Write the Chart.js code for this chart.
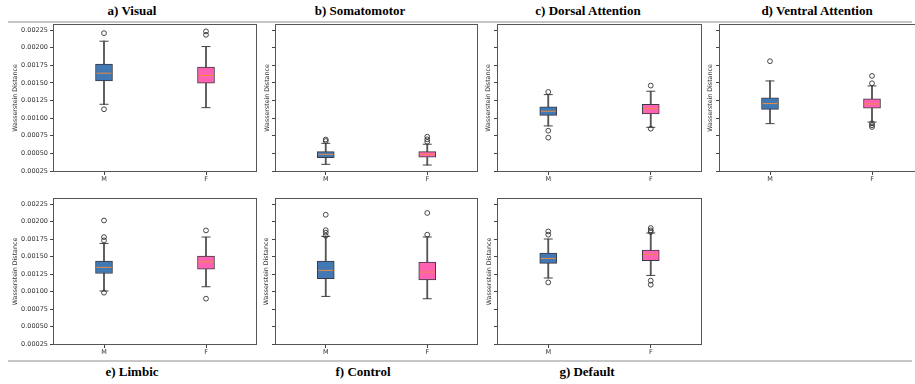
<!DOCTYPE html>
<html><head><meta charset="utf-8">
<script src="https://cdn.jsdelivr.net/npm/chart.js@4.4.1/dist/chart.umd.min.js"></script>
<style>
html,body{margin:0;padding:0;width:915px;height:384px;overflow:hidden;background:#fff;position:relative;}
.t{position:absolute;width:240px;text-align:center;font:bold 13px "Liberation Serif","Times New Roman",serif;line-height:14px;color:#000;white-space:nowrap;}
.rule{position:absolute;left:8px;width:904px;height:2px;background:#c6c6c6;}
canvas{position:absolute;}
</style></head><body>
<div class="rule" style="top:21px"></div>
<div class="rule" style="top:360px"></div>
<div id="titles"></div>
<canvas id="c0"></canvas><canvas id="c1"></canvas><canvas id="c2"></canvas><canvas id="c3"></canvas>
<canvas id="c4"></canvas><canvas id="c5"></canvas><canvas id="c6"></canvas>
<script>
// ---------- data ----------
const categories = ['M', 'F'];
const yTicks = [0.00025, 0.0005, 0.00075, 0.001, 0.00125, 0.0015, 0.00175, 0.002, 0.00225];
const yMin = 0.000236, yMax = 0.002336;
const panelTitles = ['a) Visual', 'b) Somatomotor', 'c) Dorsal Attention', 'd) Ventral Attention', 'e) Limbic', 'f) Control', 'g) Default'];

// per category: [lower whisker, Q1, median, Q3, upper whisker]
const visualStats = [[0.001197, 0.001528, 0.001638, 0.001766, 0.002092], [0.001149, 0.001496, 0.001604, 0.001723, 0.002016]];
const visualOutliers = [[0.002206, 0.001126], [0.002232, 0.002182]];
const somatomotorStats = [[0.000345, 0.000439, 0.000487, 0.000524, 0.000643], [0.000335, 0.000445, 0.000487, 0.000524, 0.000630]];
const somatomotorOutliers = [[0.000697, 0.000676], [0.000737, 0.000700, 0.000665]];
const dorsalStats = [[0.000890, 0.001040, 0.001098, 0.001160, 0.001334], [0.000870, 0.001060, 0.001135, 0.001197, 0.001382]];
const dorsalOutliers = [[0.001372, 0.000822, 0.000723], [0.001462, 0.000850]];
const ventralStats = [[0.000922, 0.001125, 0.001207, 0.001287, 0.001528], [0.000945, 0.001140, 0.001202, 0.001273, 0.001457]];
const ventralOutliers = [[0.001808], [0.001600, 0.001495, 0.000927, 0.000900, 0.000875]];
const limbicStats = [[0.001007, 0.001258, 0.001345, 0.001435, 0.001687], [0.001068, 0.001320, 0.001425, 0.001507, 0.001778]];
const limbicOutliers = [[0.002015, 0.001778, 0.001730, 0.000983], [0.001873, 0.000898]];
const controlStats = [[0.000930, 0.001183, 0.001302, 0.001436, 0.001787], [0.000897, 0.001165, 0.001278, 0.001422, 0.001779]];
const controlOutliers = [[0.002097, 0.001876, 0.001840, 0.001797], [0.002122, 0.001812]];
const defaultStats = [[0.001193, 0.001401, 0.001473, 0.001550, 0.001750], [0.001230, 0.001440, 0.001530, 0.001593, 0.001836]];
const defaultOutliers = [[0.001858, 0.001812, 0.001130], [0.001907, 0.001873, 0.001850, 0.001155, 0.001097]];

const boxColors = ['#4079b3', '#ff62b0'];

// ---------- layout (positions only) ----------
const panels = [
  {stats: visualStats, out: visualOutliers, left: 0, top: 24, yw: 53, pw: 204, ph: 148, labels: true, tpad: 11.2, tx: 132, ty: 3.6},
  {stats: somatomotorStats, out: somatomotorOutliers, left: 259, top: 24, yw: 16, pw: 203, ph: 148, labels: false, tpad: 4.2, tx: 360, ty: 3.6},
  {stats: dorsalStats, out: dorsalOutliers, left: 481, top: 24, yw: 16, pw: 205, ph: 148, labels: false, tpad: 3.5, tx: 588, ty: 3.6},
  {stats: ventralStats, out: ventralOutliers, left: 703, top: 24, yw: 16, pw: 204, ph: 148, labels: false, tpad: 3.9, tx: 817, ty: 3.6},
  {stats: limbicStats, out: limbicOutliers, left: 0, top: 198, yw: 53, pw: 204, ph: 147, labels: true, tpad: 11.2, tx: 132, ty: 364.6},
  {stats: controlStats, out: controlOutliers, left: 259, top: 198, yw: 16, pw: 203, ph: 147, labels: false, tpad: 3.2, tx: 363, ty: 364.6},
  {stats: defaultStats, out: defaultOutliers, left: 481, top: 198, yw: 16, pw: 205, ph: 147, labels: false, tpad: 4.2, tx: 587, ty: 364.6}
];
const xAxisH = 16;

Chart.defaults.font.family = '"DejaVu Sans", sans-serif';
Chart.defaults.color = '#333';

const framePlugin = {
  id: 'frame',
  afterDatasetsDraw(chart) {
    const {ctx, chartArea: a} = chart;
    ctx.save();
    ctx.strokeStyle = '#555';
    ctx.lineWidth = 1;
    ctx.strokeRect(Math.round(a.left) + 0.5, Math.round(a.top) + 0.5, Math.round(a.right - a.left) - 1, Math.round(a.bottom - a.top) - 1);
    ctx.restore();
  }
};

const titlesDiv = document.getElementById('titles');
panels.forEach((p, i) => {
  const d = document.createElement('div');
  d.className = 't';
  d.textContent = panelTitles[i];
  d.style.left = (p.tx - 120) + 'px';
  d.style.top = p.ty + 'px';
  titlesDiv.appendChild(d);

  const cv = document.getElementById('c' + i);
  cv.width = p.yw + p.pw;
  cv.height = p.ph + xAxisH;
  cv.style.left = p.left + 'px';
  cv.style.top = p.top + 'px';

  const caps = [], outl = [];
  categories.forEach((c, k) => {
    caps.push({x: c, y: p.stats[k][0]}, {x: c, y: p.stats[k][4]});
    p.out[k].forEach(v => outl.push({x: c, y: v}));
  });

  new Chart(cv, {
    type: 'bar',
    data: {
      labels: categories,
      datasets: [
        {type: 'line', data: outl, showLine: false, pointStyle: 'circle', pointRadius: 2.4,
         pointBackgroundColor: 'rgba(0,0,0,0)', pointBorderColor: '#333', pointBorderWidth: 0.9, order: 1},
        {type: 'line', data: p.stats.map(s => s[2]), showLine: false, pointStyle: 'line', pointRadius: 7.5,
         pointBorderColor: '#ee8a3c', pointBorderWidth: 1, order: 2},
        {type: 'bar', data: p.stats.map(s => [s[1], s[3]]), backgroundColor: boxColors, borderColor: '#3a3a44',
         borderWidth: 1, borderSkipped: false, barThickness: 17, grouped: false, order: 3},
        {type: 'line', data: caps, showLine: false, pointStyle: 'line', pointRadius: 4.5,
         pointBorderColor: '#444', pointBorderWidth: 1, order: 4},
        {type: 'bar', data: p.stats.map(s => [s[0], s[4]]), backgroundColor: '#555', borderWidth: 0,
         barThickness: 1.2, grouped: false, order: 5}
      ]
    },
    options: {
      responsive: false,
      animation: false,
      events: [],
      devicePixelRatio: 1,
      layout: {padding: 0, autoPadding: false},
      plugins: {legend: {display: false}, tooltip: {enabled: false}},
      scales: {
        x: {
          offset: true,
          afterFit: s => { s.height = xAxisH; s.paddingLeft = 0; s.paddingRight = 0; },
          ticks: {font: {size: 6.5}, color: '#333', padding: 0, maxRotation: 0},
          grid: {offset: false, drawOnChartArea: false, drawTicks: true, tickLength: 3, color: '#444'},
          border: {display: false}
        },
        y: {
          min: yMin, max: yMax,
          afterBuildTicks: s => { s.ticks = yTicks.map(v => ({value: v})); },
          afterFit: s => { s.width = p.yw; s.paddingTop = 0; s.paddingBottom = 0; },
          ticks: {display: p.labels, font: {size: 6.5}, color: '#333', padding: 2, callback: v => Number(v).toFixed(5)},
          grid: {drawOnChartArea: false, drawTicks: true, tickLength: 3, color: '#444'},
          border: {display: false},
          title: {display: true, text: 'Wasserstein Distance', font: {size: 6.3}, color: '#333', padding: {top: p.tpad, bottom: 0}}
        }
      }
    },
    plugins: [framePlugin]
  });
});
</script>
</body></html>
